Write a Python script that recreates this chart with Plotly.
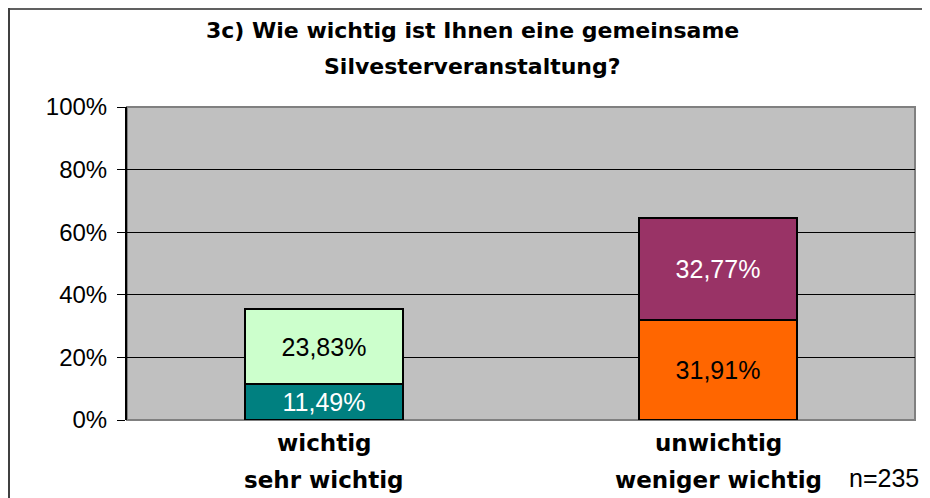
import plotly.graph_objects as go

categories = ["wichtig|sehr wichtig", "unwichtig|weniger wichtig"]
cat_ids = ["c1", "c2"]
bottom_values = [11.49, 31.91]
top_values = [23.83, 32.77]
bottom_colors = ["#008080", "#FF6600"]
top_colors = ["#CCFFCC", "#993366"]
bottom_text_colors = ["white", "black"]
top_text_colors = ["black", "white"]
title_lines = ["3c) Wie wichtig ist Ihnen eine gemeinsame", "Silvesterveranstaltung?"]
y_ticks = [0, 20, 40, 60, 80, 100]
note = "n=235"

FONT = "Liberation Sans, Arial, sans-serif"
BOLD_FONT = "DejaVu Sans, Liberation Sans, Arial, sans-serif"

# figure geometry (page adds an 8px body margin)
W, H = 922, 490
PL, PR, PT, PB = 119, 907, 99, 412
PW, PH = PR - PL, PB - PT

def fmt(v):
    return f"{v:.2f}".replace(".", ",") + "%"

def px_x(x):
    return (x - PL) / PW

def px_y(y):
    return (PB - y) / PH

fig = go.Figure()
fig.add_trace(go.Bar(
    x=cat_ids, y=bottom_values, width=0.4,
    marker=dict(color=bottom_colors, line=dict(color="black", width=2)),
    text=[fmt(v) for v in bottom_values], textposition="inside",
    insidetextanchor="middle", constraintext="none",
    textfont=dict(family=FONT, size=25, color=bottom_text_colors),
    hoverinfo="skip", showlegend=False,
))
fig.add_trace(go.Bar(
    x=cat_ids, y=top_values, width=0.4,
    marker=dict(color=top_colors, line=dict(color="black", width=2)),
    text=[fmt(v) for v in top_values], textposition="inside",
    insidetextanchor="middle", constraintext="none",
    textfont=dict(family=FONT, size=25, color=top_text_colors),
    hoverinfo="skip", showlegend=False,
))

annotations = []
for i, line in enumerate(title_lines):
    annotations.append(dict(
        text=f"<b>{line}</b>", x=px_x(464), xref="paper", xanchor="center",
        y=px_y([22, 59][i]), yref="paper", yanchor="middle",
        showarrow=False, font=dict(family=BOLD_FONT, size=22, color="black"),
    ))
for cid, cat in zip(cat_ids, categories):
    for j, part in enumerate(cat.split("|")):
        annotations.append(dict(
            text=f"<b>{part}</b>", x=cid, xref="x", xanchor="center",
            y=0, yref="paper", yanchor="middle",
            yshift=-[23, 60][j],
            showarrow=False, font=dict(family=BOLD_FONT, size=23, color="black"),
        ))
annotations.append(dict(
    text=note, x=1.0, xref="paper", xanchor="right", xshift=6,
    y=0, yref="paper", yanchor="middle", yshift=-58,
    showarrow=False, font=dict(family=FONT, size=25, color="black"),
))

fig.update_layout(
    width=W, height=H,
    margin=dict(l=PL, r=W - PR, t=PT, b=H - PB),
    paper_bgcolor="white", plot_bgcolor="#C0C0C0",
    barmode="stack",
    annotations=annotations,
    font=dict(family=FONT, size=22, color="black"),
    shapes=[
        dict(type="rect", xref="paper", yref="paper", x0=0, x1=1, y0=0, y1=1,
             line=dict(color="#808080", width=2), layer="below",
             fillcolor="rgba(0,0,0,0)"),
        dict(type="line", xref="paper", yref="paper",
             x0=px_x(0), x1=px_x(W + 5), y0=px_y(0.5), y1=px_y(0.5),
             line=dict(color="#606060", width=3)),
        dict(type="line", xref="paper", yref="paper",
             x0=px_x(1), x1=px_x(1), y0=px_y(0), y1=px_y(H + 5),
             line=dict(color="#404040", width=2)),
    ],
)
fig.update_xaxes(
    categoryorder="array", categoryarray=cat_ids,
    showticklabels=False, showgrid=False, zeroline=False,
    showline=False, range=[-0.5, 1.5],
)
fig.update_yaxes(
    range=[0, 100], tickvals=y_ticks, ticktext=[f"{t}%" for t in y_ticks],
    showgrid=True, gridcolor="#000000", gridwidth=1,
    showline=True, linecolor="black", linewidth=2,
    ticks="outside", ticklen=8, tickcolor="black", tickwidth=1,
    ticklabelstandoff=5,
    zeroline=False, tickfont=dict(family=FONT, size=24, color="black"),
)

fig.write_html("out.html")
